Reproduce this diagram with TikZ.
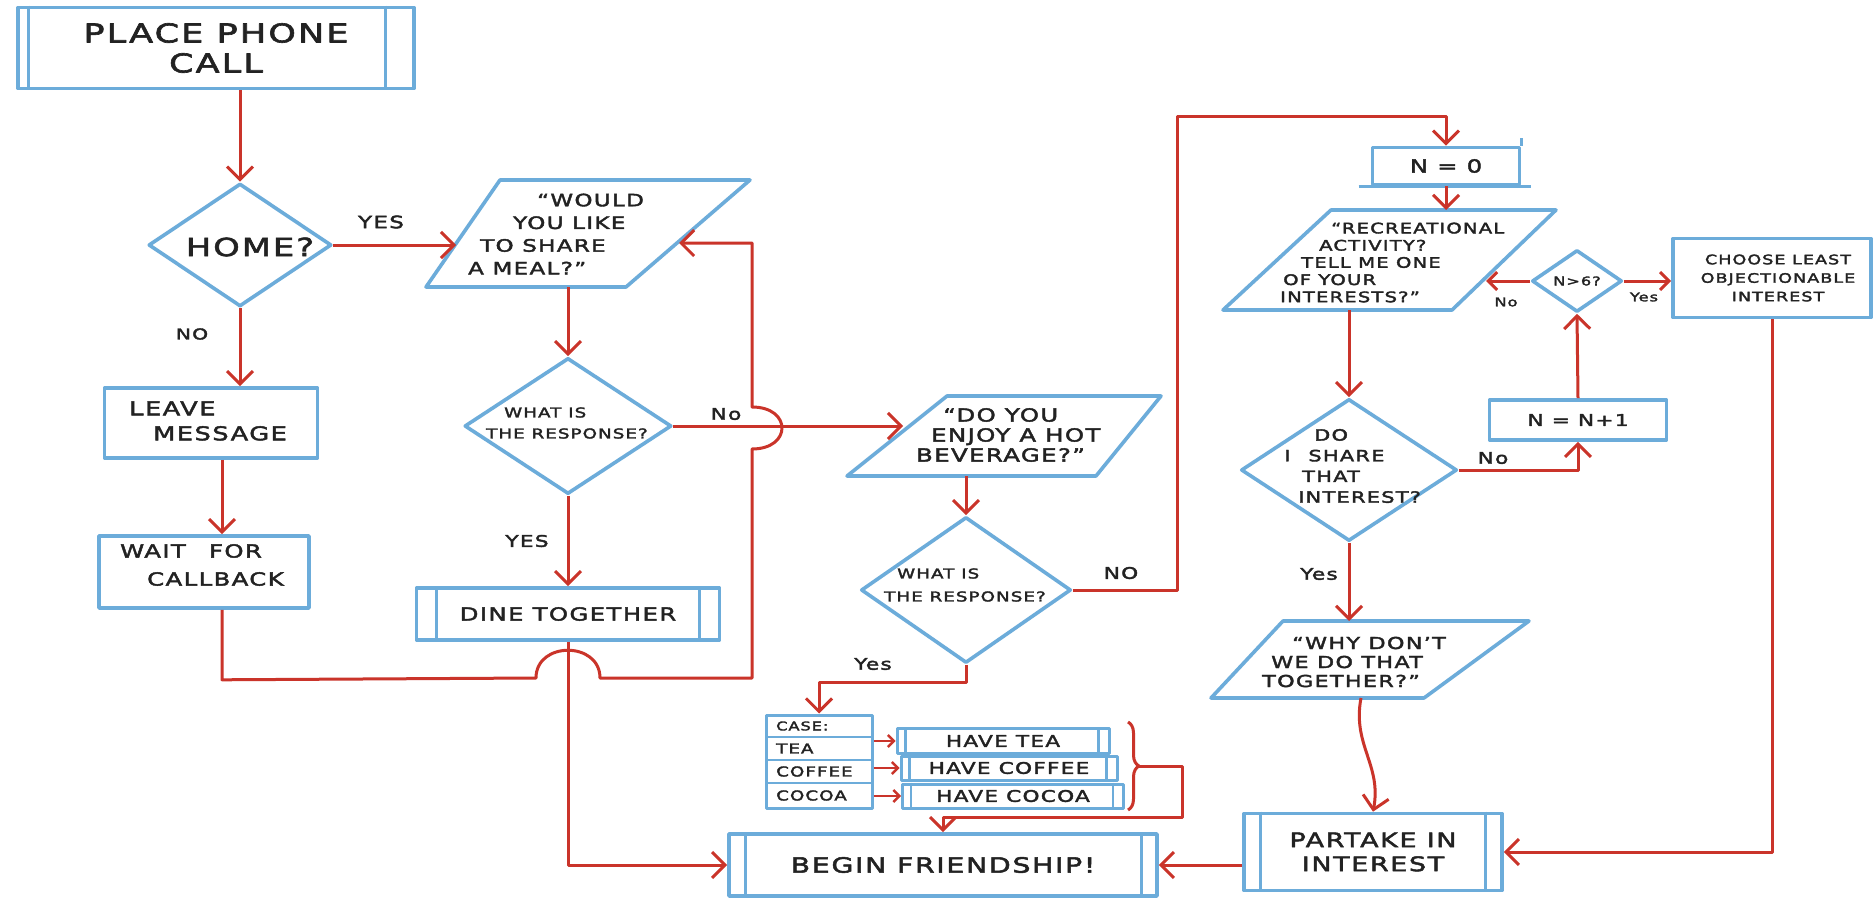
\documentclass[tikz,border=0pt]{standalone}
\usepackage{fontspec}
\setmainfont{DejaVu Sans}[FakeStretch=1.35,LetterSpace=8,FakeBold=2.4]
\usetikzlibrary{shapes.geometric,arrows.meta,decorations.pathreplacing}
\definecolor{sblue}{RGB}{108,172,218}
\definecolor{sred}{RGB}{202,52,42}
\definecolor{ink}{RGB}{34,34,34}
\newcommand\hf[2]{\fontsize{#1pt}{#2pt}\selectfont}
\begin{document}
\begin{tikzpicture}[x=1pt,y=-1pt,
  shapeline/.style={draw=sblue,line width=3.6pt,line join=round},
  box/.style={shapeline,rectangle,inner sep=0pt,text=ink,align=center},
  dia/.style={shapeline,diamond,inner sep=0pt},
  txt/.style={text=ink,inner sep=0pt,align=center},
  ltxt/.style={text=ink,inner sep=0pt,align=left,anchor=west},
  lbl/.style={text=ink,inner sep=0pt,font=\hf{16}{18}},
  bar/.style={draw=sblue,line width=3pt},
  link/.style={draw=sred,line width=3pt,line join=round},
  arr/.style={link,-{Straight Barb[length=13pt,width=26pt]}},
  marr/.style={link,-{Straight Barb[length=9pt,width=18pt]}},
  sarr/.style={draw=sred,line width=2.4pt,-{Straight Barb[length=6pt,width=12pt]}}]
\fill[white] (0,0) rectangle (1875,902);
\path[use as bounding box] (0,0) rectangle (1875,902);

% ---------- left column ----------
\node[box,minimum width=396pt,minimum height=81pt,font=\hf{26}{30}] (r1) at (216,48) {PLACE PHONE\\CALL};
\draw[bar] ([xshift=12pt]r1.north west) -- ([xshift=12pt]r1.south west);
\draw[bar] ([xshift=-30pt]r1.north east) -- ([xshift=-30pt]r1.south east);

\node[dia,minimum width=183pt,minimum height=123pt] (d1) at (240,245) {};
\node[txt,font=\hf{25}{30}] (d1t) at (250,247) {HOME?};

\node[box,minimum width=213pt,minimum height=70pt] (r2) at (211,423) {};
\node[ltxt,font=\hf{19}{25}] (r2t) at (129,421) {LEAVE\\\hspace*{24pt}MESSAGE};

\node[box,minimum width=210pt,minimum height=72pt] (r3) at (204,572) {};
\node[ltxt,font=\hf{18}{28}] (r3t) at (120,565) {WAIT\hspace{14pt} FOR\\\hspace*{27pt}CALLBACK};
\coordinate (lw) at (222,0);

% ---------- share a meal ----------
\draw[shapeline] (500,180) -- (750,180) -- (626,287) -- (426,287) -- cycle;
\coordinate (p1w) at (456,245);
\coordinate (p1e) at (679,243);
\coordinate (p1s) at (568,287);
\node[ltxt,font=\hf{17}{22.7}] (p1t) at (468,234) {\hspace*{69pt}“WOULD\\\hspace*{45pt}YOU LIKE\\\hspace*{12pt}TO SHARE\\A MEAL?”};

\node[dia,minimum width=207pt,minimum height=136pt] (d2) at (568,426) {};
\node[ltxt,font=\hf{13.5}{21}] (d2t) at (486,423) {\hspace*{18pt}WHAT IS\\THE RESPONSE?};

\node[box,minimum width=303pt,minimum height=52pt,font=\hf{18}{20}] (r4) at (568,614) {DINE TOGETHER};
\draw[bar] ([xshift=22pt]r4.north west) -- ([xshift=22pt]r4.south west);
\draw[bar] ([xshift=-22pt]r4.north east) -- ([xshift=-22pt]r4.south east);

% ---------- hot beverage ----------
\draw[shapeline] (947,396) -- (1161,396) -- (1096,476) -- (847,476) -- cycle;
\coordinate (p2w) at (903,426);
\coordinate (p2s) at (966,476);
\node[ltxt,font=\hf{18}{20}] (p2t) at (916,435) {\hspace*{27pt}“DO YOU\\\hspace*{15pt}ENJOY A HOT\\BEVERAGE?”};

\node[dia,minimum width=210pt,minimum height=146pt] (d3) at (966,590) {};
\node[ltxt,font=\hf{13.5}{23}] (d3t) at (884,585) {\hspace*{13pt}WHAT IS\\THE RESPONSE?};

\node[box,line width=3pt,minimum width=106pt,minimum height=93pt] (r5) at (819,761.5) {};
\draw[bar,line width=2.5pt] (766,737) -- (872,737);
\draw[bar,line width=2.5pt] (766,760) -- (872,760);
\draw[bar,line width=2.5pt] (766,783) -- (872,783);
\node[ltxt,font=\hf{12}{14}] (c0) at (776,726) {CASE:};
\node[ltxt,font=\hf{13.5}{14}] (c1) at (776,748.5) {TEA};
\node[ltxt,font=\hf{13.5}{14}] (c2) at (776,771.5) {COFFEE};
\node[ltxt,font=\hf{13.5}{14}] (c3) at (776,795.5) {COCOA};

\node[box,line width=3pt,minimum width=212pt,minimum height=25pt,font=\hf{16}{17}] (h1) at (1003,741) {HAVE TEA};
\node[box,line width=3pt,minimum width=216pt,minimum height=24pt,font=\hf{16}{17}] (h2) at (1009,768) {HAVE COFFEE};
\node[box,line width=3pt,minimum width=221pt,minimum height=24pt,font=\hf{16}{17}] (h3) at (1013,796) {HAVE COCOA};
\foreach \h in {h1,h2,h3}{
  \draw[bar,line width=2.4pt] ([xshift=10pt]\h.north west) -- ([xshift=10pt]\h.south west);
  \draw[bar,line width=2.4pt] ([xshift=-12pt]\h.north east) -- ([xshift=-12pt]\h.south east);
}

\node[box,minimum width=428pt,minimum height=62pt,font=\hf{21}{24}] (r9) at (943,865) {BEGIN FRIENDSHIP!};
\draw[bar] ([xshift=18pt]r9.north west) -- ([xshift=18pt]r9.south west);
\draw[bar] ([xshift=-17pt]r9.north east) -- ([xshift=-17pt]r9.south east);

% ---------- right part ----------
\node[box,minimum width=147pt,minimum height=37pt,font=\hf{18}{20}] (r10) at (1446,166) {N = 0};
\draw[shapeline] ([xshift=-12pt]r10.south west) -- ([xshift=10pt]r10.south east);
\draw[shapeline] (r10.north east) -- ([yshift=8pt]r10.north east);

\draw[shapeline] (1331,210) -- (1556,210) -- (1452,310) -- (1223,310) -- cycle;
\coordinate (p3n) at (1446,210);
\coordinate (p3s) at (1349,310);
\coordinate (p3e) at (1486,281);
\node[ltxt,font=\hf{14.5}{17.2}] (p3t) at (1280,262.5) {\hspace*{51pt}“RECREATIONAL\\\hspace*{39pt}ACTIVITY?\\\hspace*{21pt}TELL ME ONE\\\hspace*{3pt}OF YOUR\\INTERESTS?”};

\node[dia,minimum width=90pt,minimum height=62pt] (d4) at (1577,281) {};
\node[txt,font=\hf{12}{14}] (d4t) at (1577,281) {N>6?};

\node[box,minimum width=198pt,minimum height=79pt] (r11) at (1772,278) {};
\node[txt,font=\hf{13}{18.5}] (r11t) at (1778,278) {CHOOSE LEAST\\OBJECTIONABLE\\INTEREST};

\node[box,minimum width=177pt,minimum height=40pt,font=\hf{16}{18}] (r12) at (1578,420) {N = N+1};

\node[dia,minimum width=216pt,minimum height=142pt] (d5) at (1349,470) {};
\node[ltxt,font=\hf{15.5}{20.7}] (d5t) at (1284,466) {\hspace*{30pt}DO\\I\hspace{18pt}SHARE\\\hspace*{18pt}THAT\\\hspace*{14pt}INTEREST?};

\draw[shapeline] (1283,621) -- (1529,621) -- (1424,698) -- (1211,698) -- cycle;
\coordinate (p4n) at (1349,621);
\coordinate (p4s) at (1361,698);
\node[ltxt,font=\hf{16.5}{19}] (p4t) at (1262,662) {\hspace*{30pt}“WHY DON’T\\\hspace*{9pt}WE DO THAT\\TOGETHER?”};

\node[box,minimum width=258pt,minimum height=77pt,font=\hf{20}{24}] (r13) at (1373,852) {PARTAKE IN\\INTEREST};
\draw[bar] ([xshift=18pt]r13.north west) -- ([xshift=18pt]r13.south west);
\draw[bar] ([xshift=-18pt]r13.north east) -- ([xshift=-18pt]r13.south east);

% ---------- connectors ----------
\draw[arr] (d1.north |- r1.south) -- (d1.north);
\draw[arr] (d1.east) -- (p1w);
\node[lbl,font=\hf{17}{20}] (l1) at (381,222) {YES};
\draw[arr] (d1.south) -- (d1.south |- r2.north);
\node[lbl,font=\hf{15}{18}] (l2) at (192,334) {NO};
\draw[arr] (r2.south -| lw) -- (r3.north -| lw);

\draw[arr] (p1s) -- (d2.north);
\draw[arr] (d2.east) -- (p2w);
\node[lbl] (l3) at (726,414) {No};
\draw[arr] (d2.south) -- (r4.north);
\node[lbl] (l4) at (527,541) {YES};

\draw[arr] (r3.south -| lw) -- ++(0,70) -- (536,678)
  .. controls (536,641) and (600,641) .. (600,678) -- (752,678) -- (752,449)
  .. controls (792,449) and (792,407) .. (752,407) -- (752,243) -- (p1e);
\draw[arr] (r4.south) |- (r9.west);

\draw[arr] (p2s) -- (d3.north);
\draw[arr] (d3.east) -- (1177,590) -- (1177,116) -- (1446,116) -- (r10.north);
\node[lbl] (l5) at (1121,573) {NO};
\draw[arr] (d3.south) -- ++(0,18) -| (r5.north);
\node[lbl] (l6) at (873,664) {Yes};

\draw[sarr] (r5.east |- h1.west) -- (h1.west);
\draw[sarr] (r5.east |- h2.west) -- (h2.west);
\draw[sarr] (r5.east |- h3.west) -- (h3.west);
\draw[link,decorate,decoration={brace,amplitude=11pt}] (1128,722) -- (1128,810);
\coordinate (bt) at (1139,766);
\draw[arr] (bt) -- (1182,766) -- (1182,817) -| (r9.north);

\draw[arr] (r10.south) -- (p3n);
\draw[arr] (p3s) -- (d5.north);
\draw[arr] (d5.east) -| (r12.south);
\node[lbl] (l7) at (1493,458) {No};
\draw[arr] (r12.north) -- (d4.south);
\draw[marr] (d4.west) -- (p3e);
\node[lbl,font=\hf{12}{14}] (l8) at (1506,302) {No};
\draw[marr] (d4.east) -- (r11.west |- d4.east);
\node[lbl,font=\hf{12}{14}] (l9) at (1644,297) {Yes};
\draw[arr] (d5.south) -- (p4n);
\node[lbl] (l10) at (1319,574) {Yes};
\draw[arr] (p4s) .. controls (1352,745) and (1382,765) .. (r13.north);
\draw[arr] (r11.south) |- (r13.east);
\draw[arr] (r13.west |- r9.east) -- (r9.east);
\end{tikzpicture}
\end{document}
